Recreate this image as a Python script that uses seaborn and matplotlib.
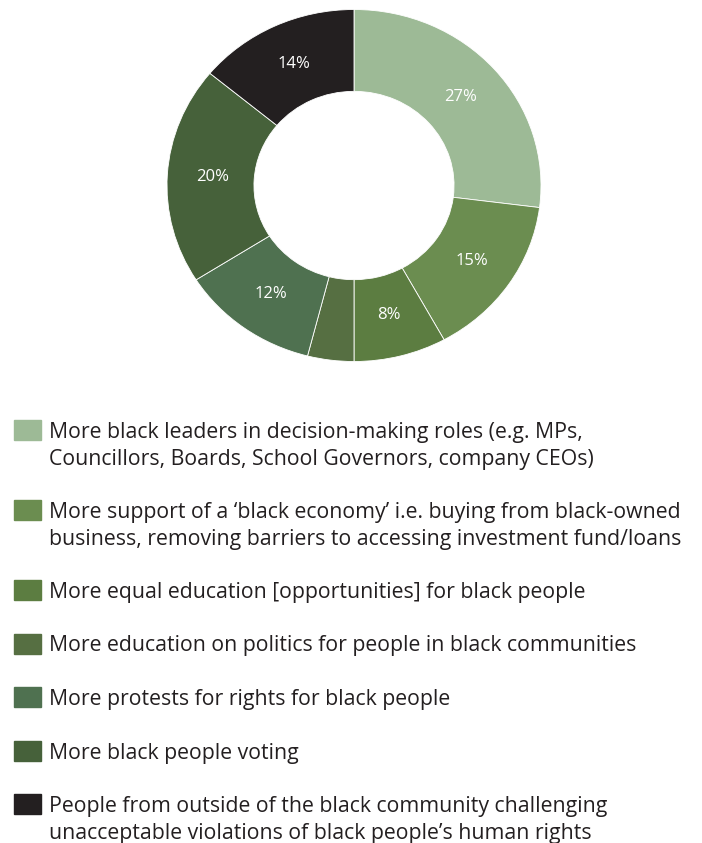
import matplotlib
matplotlib.use("Agg")
import matplotlib.pyplot as plt
import seaborn as sns
from matplotlib.patches import Rectangle

# ====================== data ======================

categories = [
    "More black leaders in decision-making roles (e.g. MPs,\nCouncillors, Boards, School Governors, company CEOs)",
    "More support of a \u2018black economy\u2019 i.e. buying from black-owned\nbusiness, removing barriers to accessing investment fund/loans",
    "More equal education [opportunities] for black people",
    "More education on politics for people in black communities",
    "More protests for rights for black people",
    "More black people voting",
    "People from outside of the black community challenging\nunacceptable violations of black people\u2019s human rights",
]
shares = [27, 15, 8, 4, 12, 20, 14]
colors = ["#9dba96", "#6b8d50", "#5c7d41", "#566f42", "#4f7150", "#46613a", "#231f20"]

sns.set_theme(style="white")
plt.rcParams['font.family'] = ['Open Sans', 'DejaVu Sans']

W, H = 702, 843
fig = plt.figure(figsize=(W / 100, H / 100), dpi=100)

# ====================== donut ======================

cx, cy, rx, ry = 354, 185.5, 187, 176
ax = fig.add_axes([(cx - rx) / W, 1 - (cy + ry) / H, 2 * rx / W, 2 * ry / H])

wedges, texts, autotexts = ax.pie(
    shares,
    colors=colors,
    startangle=90,
    counterclock=False,
    radius=1,
    autopct=lambda p: f"{p:.0f}%" if p >= 5 else "",
    pctdistance=0.76,
    wedgeprops=dict(width=0.465, edgecolor="white", linewidth=0.6),
    textprops=dict(color="white", fontsize=12),
)
ax.set_aspect("auto")
ax.set_xlim(-1, 1)
ax.set_ylim(-1, 1)
ax.axis("off")

# ====================== legend ======================

line_h = 26.5
gap = 27
y = 430
for label, col in zip(categories, colors):
    fig.patches.append(Rectangle((14 / W, 1 - (y + 10) / H), 27 / W, 20 / H,
                                 transform=fig.transFigure, color=col))
    lines = label.split("\n")
    for i, line in enumerate(lines):
        fig.text(49 / W, 1 - (y + i * line_h) / H, line, ha="left",
                 va="center_baseline", fontsize=15.3, color="#231f20")
    y += line_h * len(lines) + gap

fig.savefig("out.png", dpi=100)
